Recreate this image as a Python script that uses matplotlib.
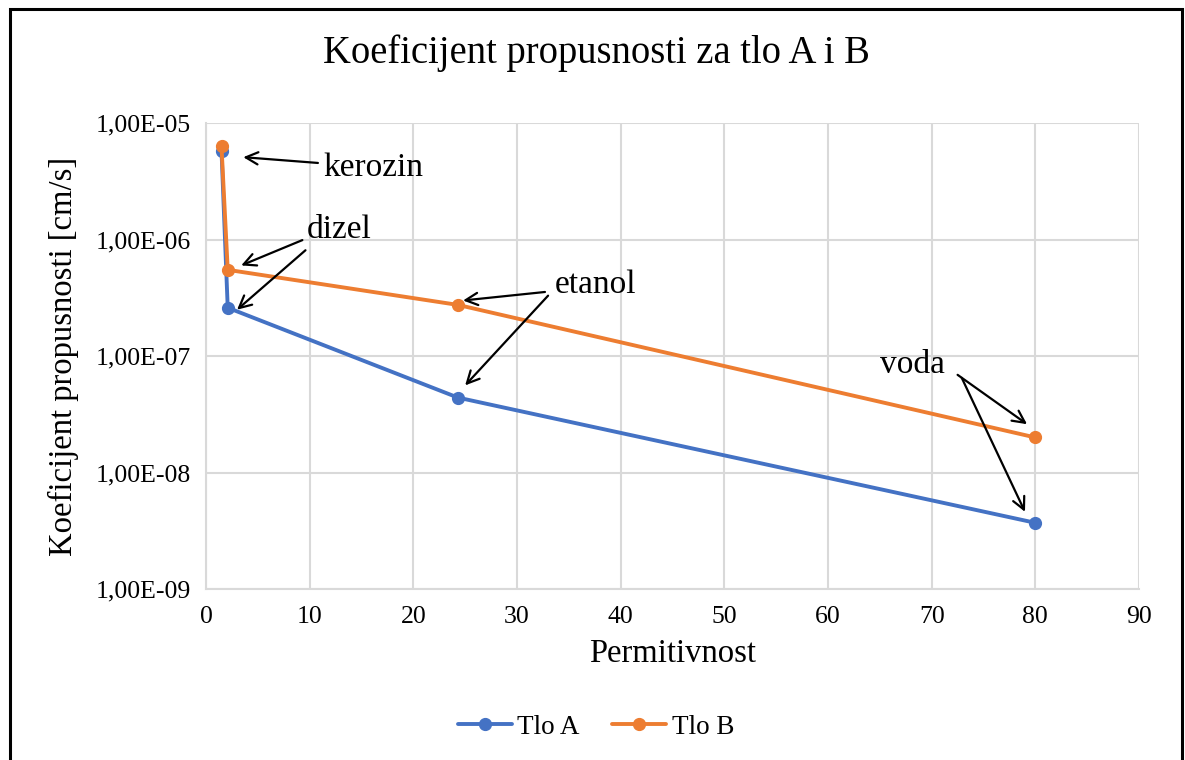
import numpy as np
import matplotlib.pyplot as plt
from matplotlib.patches import Rectangle
from matplotlib.ticker import FixedLocator, FixedFormatter

plt.rcParams['font.family'] = ['Liberation Serif', 'DejaVu Serif']

# permittivity of each fluid and measured permeability for both soils
fluids = ['kerozin', 'dizel', 'etanol', 'voda']
permitivnost = [1.5, 2.1, 24.3, 80.0]
tlo_a = [5.8e-6, 2.6e-7, 4.4e-8, 3.7e-9]
tlo_b = [6.3e-6, 5.5e-7, 2.75e-7, 2.0e-8]

y_ticks = [1e-9, 1e-8, 1e-7, 1e-6, 1e-5]
y_labels = ['1,00E-09', '1,00E-08', '1,00E-07', '1,00E-06', '1,00E-05']

# label position and arrow (tail, head) pairs, in data units
labels_pos = {
    'kerozin': (11.3, 4.1e-6),
    'dizel': (9.7, 1.21e-6),
    'etanol': (33.6, 4.1e-7),
    'voda': (65.0, 8.4e-8),
}
arrows = [
    ((10.8, 4.55e-6), (3.6, 5.1e-6)),
    ((9.3, 9.9e-7), (3.4, 6.0e-7)),
    ((9.6, 8.1e-7), (3.0, 2.5e-7)),
    ((32.7, 3.55e-7), (24.8, 3.0e-7)),
    ((33.0, 3.3e-7), (25.0, 5.6e-8)),
    ((72.5, 6.9e-8), (79.2, 2.6e-8)),
    ((72.9, 6.5e-8), (79.0, 4.6e-9)),
]

blue = '#4472C4'
orange = '#ED7D31'
grid_c = '#D9D9D9'

fig = plt.figure(figsize=(11.85, 7.6), dpi=100)
ax = fig.add_axes([0.1738, 0.225, 0.7874, 0.613])

ax.plot(permitivnost, tlo_a, color=blue, lw=2.8, marker='o', ms=8.5,
        label='Tlo A', solid_capstyle='round', zorder=3)
ax.plot(permitivnost, tlo_b, color=orange, lw=2.8, marker='o', ms=8.5,
        label='Tlo B', solid_capstyle='round', zorder=3)

ax.set_yscale('log')
ax.set_xlim(0, 90)
ax.set_ylim(1e-9, 1e-5)
ax.set_xticks(np.arange(0, 91, 10))
ax.yaxis.set_major_locator(FixedLocator(y_ticks))
ax.yaxis.set_major_formatter(FixedFormatter(y_labels))
ax.yaxis.set_minor_locator(FixedLocator([]))
ax.tick_params(axis='both', length=0, labelsize=18.5, pad=11)
ax.tick_params(axis='x', pad=12)
ax.grid(True, color=grid_c, lw=1.5)
ax.set_axisbelow(True)
for side in ['top', 'right']:
    ax.spines[side].set_visible(False)
for side in ['left', 'bottom']:
    ax.spines[side].set_color(grid_c)
    ax.spines[side].set_linewidth(1.5)

ax.set_xlabel('Permitivnost', fontsize=23.5, labelpad=8)
ax.set_ylabel('Koeficijent propusnosti [cm/s]', fontsize=23.5, labelpad=12)
fig.text(0.503, 0.93, 'Koeficijent propusnosti za tlo A i B',
         fontsize=27.8, ha='center', va='center')

for name in fluids:
    x, y = labels_pos[name]
    ax.text(x, y, name, fontsize=24, ha='left', va='center')
for tail, head in arrows:
    ax.annotate('', xy=head, xytext=tail,
                arrowprops=dict(arrowstyle='->', color='black', lw=1.6,
                                mutation_scale=22, shrinkA=0, shrinkB=0))

fig.legend(loc='center', bbox_to_anchor=(0.503, 0.043), ncol=2,
           frameon=False, fontsize=19.5, handlelength=2.0, columnspacing=1.2,
           handletextpad=0.2)

# outer chart frame
fig.patches.append(Rectangle((10 / 1185, -0.01), 1172 / 1185, 1.0 - 9 / 760 + 0.01,
                             transform=fig.transFigure, fill=False,
                             edgecolor='black', lw=2.2))

fig.savefig('out.png', dpi=100)
